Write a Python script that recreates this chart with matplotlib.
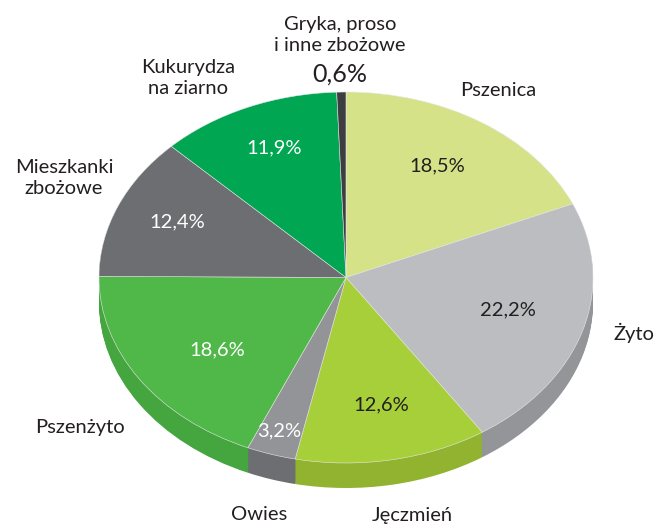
import matplotlib
matplotlib.use("Agg")
import matplotlib.pyplot as plt

labels = ["Pszenica", "Żyto", "Jęczmień", "Owies", "Pszenżyto", "Mieszkanki\nzbożowe", "Kukurydza\nna ziarno", "Gryka, proso\ni inne zbożowe"]
values = [18.5, 22.2, 12.6, 3.2, 18.6, 12.4, 11.9, 0.6]
pct_labels = ["18,5%", "22,2%", "12,6%", "3,2%", "18,6%", "12,4%", "11,9%", "0,6%"]

top_colors = ["#d5e288", "#bcbdc0", "#a7cf3a", "#929497", "#50b848", "#6d6e71", "#00a651", "#3d3e40"]
side_colors = ["#a9b564", "#939598", "#92b330", "#6d6e71", "#45a640", "#55565a", "#008a43", "#222222"]
pct_colors = ["#231f20", "#231f20", "#231f20", "white", "white", "white", "white", "#231f20"]

# label places in pixels of the picture
label_xy = [(498, 90), (634, 333), (412, 516), (259, 514), (80, 427), (64, 178), (188, 78), (340, 35)]
pct_xy = [(437, 166), (508, 310), (381, 405), (279, 431), (217, 350), (177, 222), (274, 148), (340, 74)]

W, H = 656, 528
cx, cy, rx, ry = 346, 277.5, 247, 185.5
depth = 25

plt.rcParams["font.family"] = ["Lato", "DejaVu Sans"]
fig = plt.figure(figsize=(W / 100, H / 100), dpi=100)
ax = fig.add_axes([0, 0, 1, 1])

# side of the pie: stack of shifted pies
for d in range(depth, 0, -1):
    ax.pie(values, colors=side_colors, startangle=90, counterclock=False,
           center=(0, -d / ry), radius=1)

ax.pie(values, colors=top_colors, startangle=90, counterclock=False, center=(0, 0), radius=1,
       wedgeprops={"edgecolor": "#e8e8e8", "linewidth": 0.4})

# unit circle stretched to the ellipse
ax.set_aspect("auto")
ax.set_xlim(-cx / rx, (W - cx) / rx)
ax.set_ylim(-(H - cy) / ry, cy / ry)
ax.axis("off")

for lab, (x, y) in zip(labels, label_xy):
    fig.text(x / W, 1 - y / H, lab, ha="center", va="center", fontsize=14.5, color="#231f20",
             linespacing=1.32)
for i, (p, (x, y)) in enumerate(zip(pct_labels, pct_xy)):
    fig.text(x / W, 1 - y / H, p, ha="center", va="center", color=pct_colors[i],
             fontsize=18 if i == 7 else 14.5)

fig.savefig("out.png", dpi=100)
